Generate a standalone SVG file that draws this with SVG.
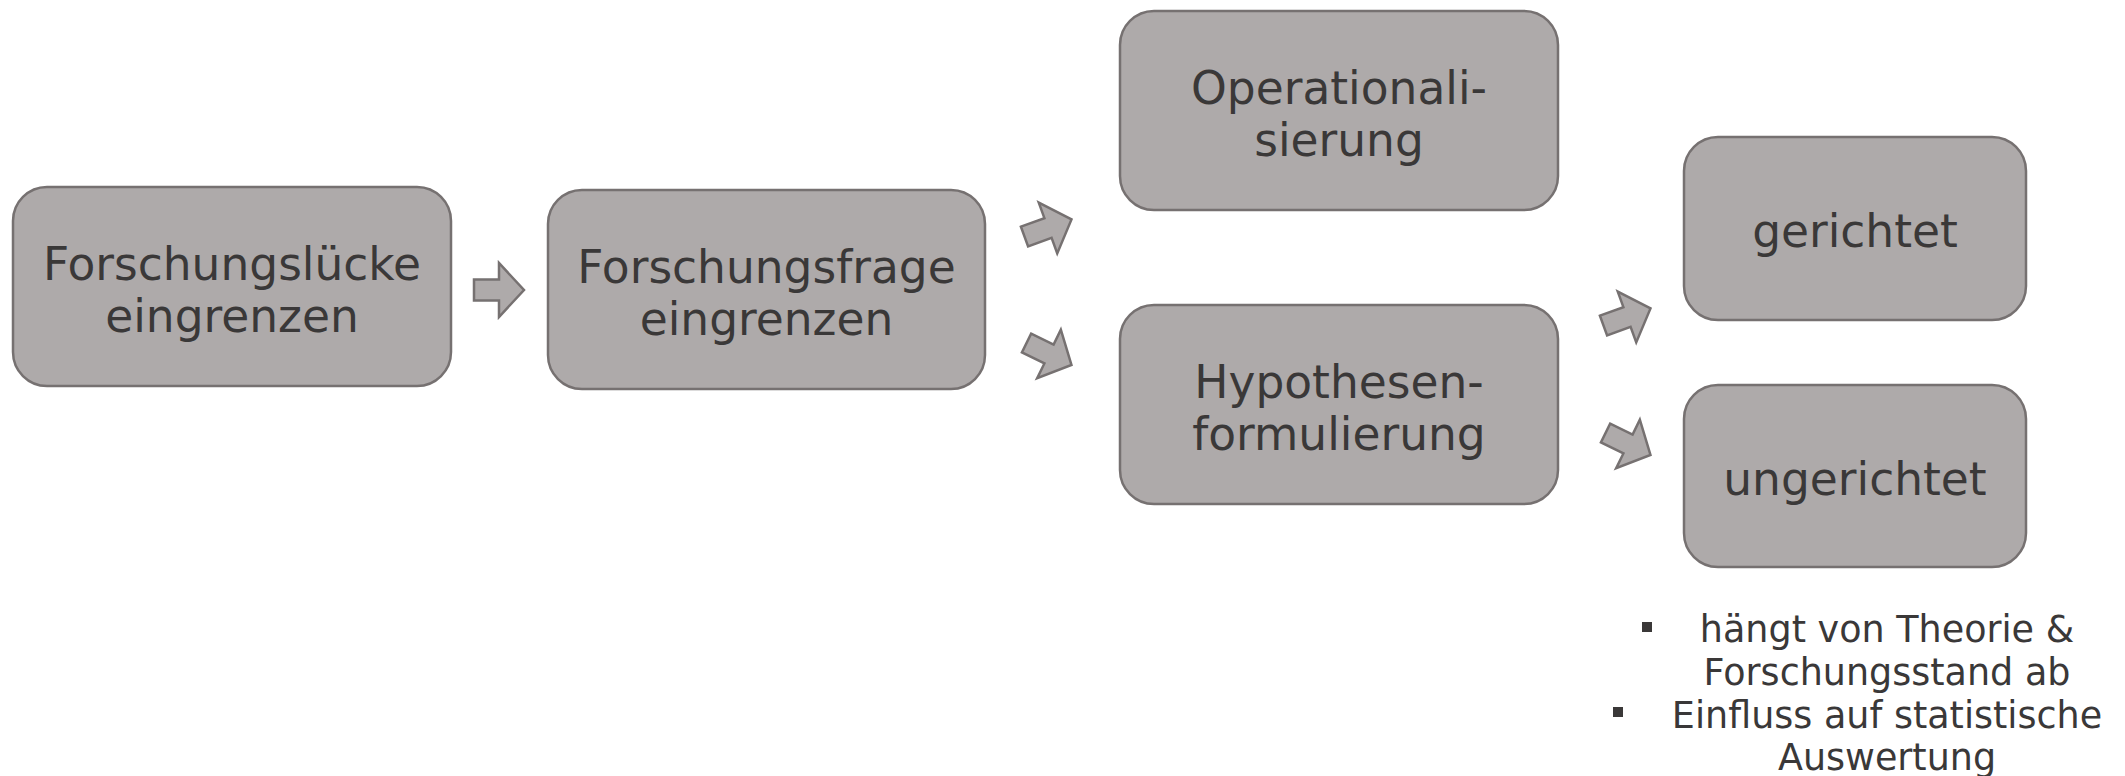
<svg xmlns="http://www.w3.org/2000/svg" width="2125" height="776" viewBox="0 0 2125 776">
  <style>
    .box { fill: #AEAAAA; stroke: #767171; stroke-width: 2.5; }
    .arr { fill: #AEAAAA; stroke: #767171; stroke-width: 2.5; stroke-linejoin: miter; }
    .lbl { font-family: "DejaVu Sans", Verdana, sans-serif; font-size: 45.5px; fill: #3A3838; text-anchor: middle; }
    .note { font-family: "DejaVu Sans", Verdana, sans-serif; font-size: 36.5px; fill: #3A3838; text-anchor: middle; }
    .bul { fill: #3A3838; }
  </style>
  <defs>
    <polygon id="rarrow" points="-25,-10.5 0,-10.5 0,-27 25,0 0,27 0,10.5 -25,10.5"/>
  </defs>
  <rect width="2125" height="776" fill="#FFFFFF"/>

  <g id="connectors">
    <use href="#rarrow" class="arr" transform="translate(499,290)"/>
    <use href="#rarrow" class="arr" transform="translate(1048,228) rotate(-20)"/>
    <use href="#rarrow" class="arr" transform="translate(1049,354) rotate(26)"/>
    <use href="#rarrow" class="arr" transform="translate(1627,317) rotate(-20)"/>
    <use href="#rarrow" class="arr" transform="translate(1628,444) rotate(26)"/>
  </g>

  <g id="node-forschungsluecke">
    <rect class="box" x="13" y="187" width="438" height="199" rx="34" ry="34"/>
    <text class="lbl" x="232" y="279.5">Forschungslücke</text>
    <text class="lbl" x="232" y="331.5">eingrenzen</text>
  </g>

  <g id="node-forschungsfrage">
    <rect class="box" x="548" y="190" width="437" height="199" rx="34" ry="34"/>
    <text class="lbl" x="766.5" y="282.5">Forschungsfrage</text>
    <text class="lbl" x="766.5" y="334.5">eingrenzen</text>
  </g>

  <g id="node-operationalisierung">
    <rect class="box" x="1120" y="11" width="438" height="199" rx="34" ry="34"/>
    <text class="lbl" x="1339" y="104">Operationali-</text>
    <text class="lbl" x="1339" y="156">sierung</text>
  </g>

  <g id="node-hypothesenformulierung">
    <rect class="box" x="1120" y="305" width="438" height="199" rx="34" ry="34"/>
    <text class="lbl" x="1339" y="398">Hypothesen-</text>
    <text class="lbl" x="1339" y="450">formulierung</text>
  </g>

  <g id="node-gerichtet">
    <rect class="box" x="1684" y="137" width="342" height="183" rx="34" ry="34"/>
    <text class="lbl" x="1855" y="247">gerichtet</text>
  </g>

  <g id="node-ungerichtet">
    <rect class="box" x="1684" y="385" width="342" height="182" rx="34" ry="34"/>
    <text class="lbl" x="1855" y="495">ungerichtet</text>
  </g>

  <g id="notes">
    <rect class="bul" x="1642" y="622" width="10" height="10"/>
    <text class="note" x="1887" y="642">hängt von Theorie &amp;</text>
    <text class="note" x="1887" y="685">Forschungsstand ab</text>
    <rect class="bul" x="1613" y="707" width="10" height="10"/>
    <text class="note" x="1887" y="728">Einfluss auf statistische</text>
    <text class="note" x="1887" y="770">Auswertung</text>
  </g>
</svg>
